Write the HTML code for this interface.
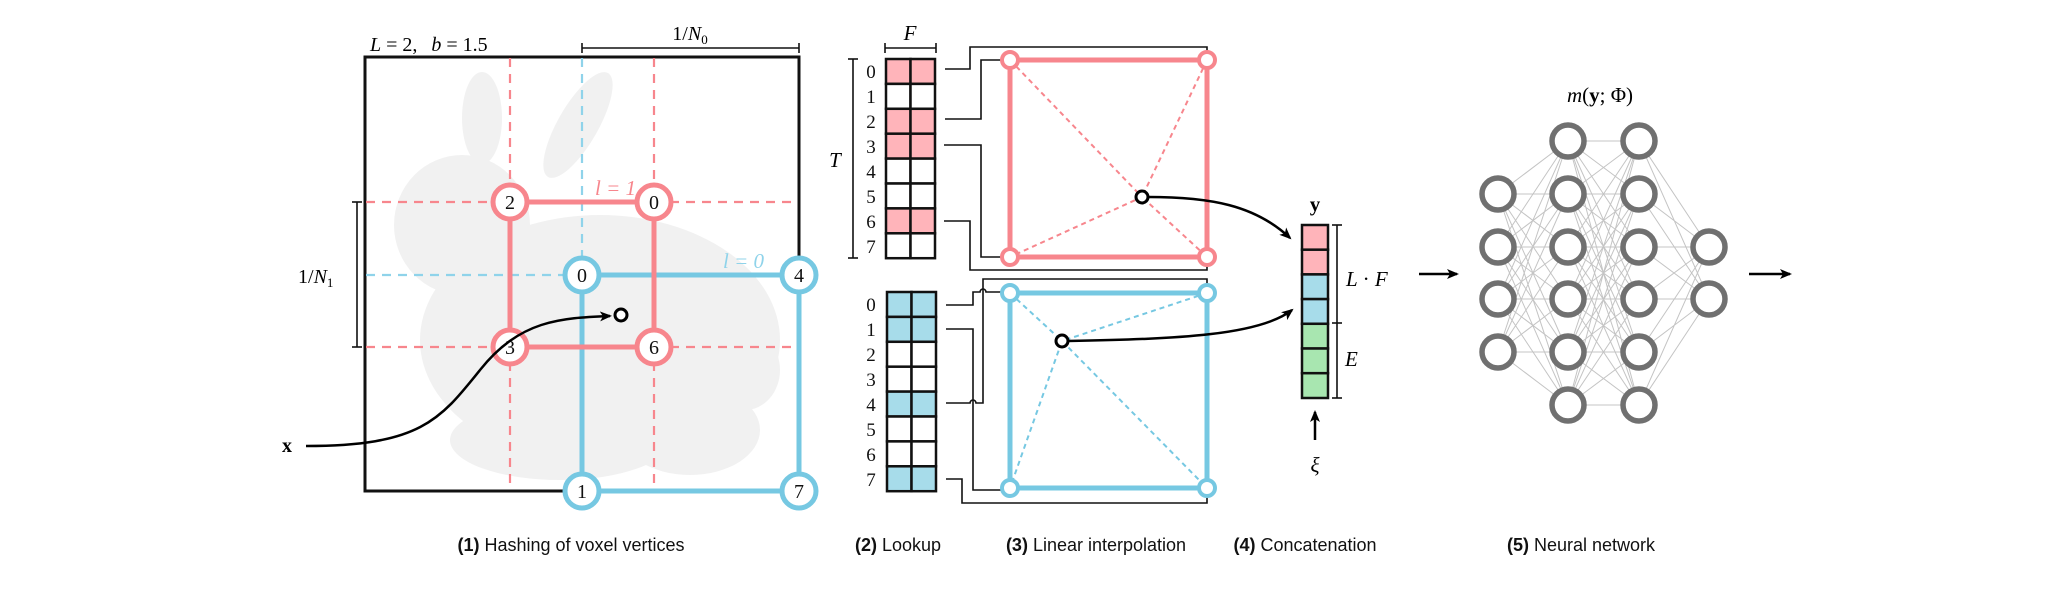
<!DOCTYPE html>
<html><head><meta charset="utf-8"><style>
html,body{margin:0;padding:0;background:#fff;}
svg{display:block;}
.m{font-family:"Liberation Serif",serif;}
.c{font-family:"Liberation Sans",sans-serif;font-size:18px;fill:#111;}
</style></head><body>
<svg width="2068" height="606" viewBox="0 0 2068 606" xmlns="http://www.w3.org/2000/svg">
<defs>
<marker id="ah" markerWidth="12" markerHeight="10" refX="10" refY="5" orient="auto" markerUnits="userSpaceOnUse">
<path d="M0,0 L12,5 L0,10 L3,5 z" fill="#000"/></marker>
</defs>
<!-- bunny -->
<g fill="#f1f1f1">
<ellipse cx="482" cy="118" rx="20" ry="46"/>
<ellipse cx="578" cy="125" rx="20" ry="60" transform="rotate(30 578 125)"/>
<ellipse cx="462" cy="225" rx="68" ry="70"/>
<ellipse cx="600" cy="340" rx="180" ry="125"/>
<ellipse cx="745" cy="370" rx="35" ry="40"/>
<ellipse cx="560" cy="440" rx="110" ry="40"/>
<ellipse cx="690" cy="430" rx="70" ry="45"/>
</g>
<!-- frame -->
<rect x="365" y="57" width="434" height="434" fill="none" stroke="#111" stroke-width="3"/>
<!-- dashed grid -->
<g stroke="#f7868d" stroke-width="2.2" stroke-dasharray="9,7" fill="none">
<line x1="510" y1="58" x2="510" y2="490"/><line x1="654" y1="58" x2="654" y2="490"/>
<line x1="366" y1="202" x2="798" y2="202"/><line x1="366" y1="347" x2="798" y2="347"/>
</g>
<g stroke="#8fd3ea" stroke-width="2.2" stroke-dasharray="9,7" fill="none">
<line x1="582" y1="58" x2="582" y2="275"/><line x1="366" y1="275" x2="582" y2="275"/>
</g>
<!-- blue square -->
<rect x="582" y="275" width="217" height="216" fill="none" stroke="#76c8e2" stroke-width="5"/>
<!-- pink square -->
<rect x="510" y="202" width="144" height="145" fill="none" stroke="#f7868d" stroke-width="5"/>
<g stroke-width="5" fill="#fff">
<circle cx="510" cy="202" r="17" stroke="#f7868d"/><circle cx="654" cy="202" r="17" stroke="#f7868d"/>
<circle cx="510" cy="347" r="17" stroke="#f7868d"/><circle cx="654" cy="347" r="17" stroke="#f7868d"/>
<circle cx="582" cy="275" r="17" stroke="#76c8e2"/><circle cx="799" cy="275" r="17" stroke="#76c8e2"/>
<circle cx="582" cy="491" r="17" stroke="#76c8e2"/><circle cx="799" cy="491" r="17" stroke="#76c8e2"/>
</g>
<g class="m" font-size="20" text-anchor="middle" fill="#111">
<text x="510" y="209">2</text><text x="654" y="209">0</text><text x="510" y="354">3</text><text x="654" y="354">6</text>
<text x="582" y="282">0</text><text x="799" y="282">4</text><text x="582" y="498">1</text><text x="799" y="498">7</text>
</g>
<text class="m" x="595" y="195" font-size="21" fill="#f7868d" font-style="italic">l = 1</text>
<text class="m" x="723" y="268" font-size="21" fill="#8fd3ea" font-style="italic">l = 0</text>
<!-- point & x arrow -->
<path d="M306,446 C420,446 440,420 480,370 C520,320 560,318 610,316" fill="none" stroke="#000" stroke-width="2.5" marker-end="url(#ah)"/>
<circle cx="621" cy="315" r="6" fill="#fff" stroke="#000" stroke-width="3"/>
<text class="m" x="282" y="452" font-size="20" font-weight="bold">x</text>
<!-- top labels -->
<text class="m" x="370" y="51" font-size="20" font-style="italic">L<tspan font-style="normal"> = 2,</tspan><tspan dx="14">b</tspan><tspan font-style="normal"> = 1.5</tspan></text>
<g stroke="#111" stroke-width="1.6"><line x1="582" y1="48" x2="799" y2="48"/><line x1="582" y1="43" x2="582" y2="53"/><line x1="799" y1="43" x2="799" y2="53"/>
<line x1="357" y1="202" x2="357" y2="347"/><line x1="352" y1="202" x2="362" y2="202"/><line x1="352" y1="347" x2="362" y2="347"/></g>
<text class="m" x="690" y="40" font-size="20" text-anchor="middle">1/<tspan font-style="italic">N</tspan><tspan font-size="13" dy="4">0</tspan></text>
<text class="m" x="298" y="283" font-size="20">1/<tspan font-style="italic">N</tspan><tspan font-size="13" dy="4">1</tspan></text>
<!-- tables -->
<g stroke="#111" stroke-width="2.5">
<rect x="886" y="59" width="24.5" height="24.9" fill="#ffb4ba"/><rect x="910.5" y="59" width="24.5" height="24.9" fill="#ffb4ba"/>
<rect x="886" y="83.9" width="24.5" height="24.9" fill="#fff"/><rect x="910.5" y="83.9" width="24.5" height="24.9" fill="#fff"/>
<rect x="886" y="108.8" width="24.5" height="24.9" fill="#ffb4ba"/><rect x="910.5" y="108.8" width="24.5" height="24.9" fill="#ffb4ba"/>
<rect x="886" y="133.7" width="24.5" height="24.9" fill="#ffb4ba"/><rect x="910.5" y="133.7" width="24.5" height="24.9" fill="#ffb4ba"/>
<rect x="886" y="158.6" width="24.5" height="24.9" fill="#fff"/><rect x="910.5" y="158.6" width="24.5" height="24.9" fill="#fff"/>
<rect x="886" y="183.5" width="24.5" height="24.9" fill="#fff"/><rect x="910.5" y="183.5" width="24.5" height="24.9" fill="#fff"/>
<rect x="886" y="208.4" width="24.5" height="24.9" fill="#ffb4ba"/><rect x="910.5" y="208.4" width="24.5" height="24.9" fill="#ffb4ba"/>
<rect x="886" y="233.3" width="24.5" height="24.9" fill="#fff"/><rect x="910.5" y="233.3" width="24.5" height="24.9" fill="#fff"/>

<rect x="887" y="292" width="24.5" height="24.9" fill="#a7dcea"/><rect x="911.5" y="292" width="24.5" height="24.9" fill="#a7dcea"/>
<rect x="887" y="316.9" width="24.5" height="24.9" fill="#a7dcea"/><rect x="911.5" y="316.9" width="24.5" height="24.9" fill="#a7dcea"/>
<rect x="887" y="341.8" width="24.5" height="24.9" fill="#fff"/><rect x="911.5" y="341.8" width="24.5" height="24.9" fill="#fff"/>
<rect x="887" y="366.7" width="24.5" height="24.9" fill="#fff"/><rect x="911.5" y="366.7" width="24.5" height="24.9" fill="#fff"/>
<rect x="887" y="391.6" width="24.5" height="24.9" fill="#a7dcea"/><rect x="911.5" y="391.6" width="24.5" height="24.9" fill="#a7dcea"/>
<rect x="887" y="416.5" width="24.5" height="24.9" fill="#fff"/><rect x="911.5" y="416.5" width="24.5" height="24.9" fill="#fff"/>
<rect x="887" y="441.4" width="24.5" height="24.9" fill="#fff"/><rect x="911.5" y="441.4" width="24.5" height="24.9" fill="#fff"/>
<rect x="887" y="466.3" width="24.5" height="24.9" fill="#a7dcea"/><rect x="911.5" y="466.3" width="24.5" height="24.9" fill="#a7dcea"/>
</g>
<g class="m" font-size="19" text-anchor="middle" fill="#111">
<text x="871" y="78">0</text><text x="871" y="103">1</text><text x="871" y="128">2</text><text x="871" y="153">3</text>
<text x="871" y="178">4</text><text x="871" y="203">5</text><text x="871" y="228">6</text><text x="871" y="253">7</text>
<text x="871" y="311">0</text><text x="871" y="336">1</text><text x="871" y="361">2</text><text x="871" y="386">3</text>
<text x="871" y="411">4</text><text x="871" y="436">5</text><text x="871" y="461">6</text><text x="871" y="486">7</text>
</g>
<g stroke="#111" stroke-width="1.6" fill="none">
<line x1="885" y1="48" x2="936" y2="48"/><line x1="885" y1="43" x2="885" y2="53"/><line x1="936" y1="43" x2="936" y2="53"/>
<line x1="853" y1="59" x2="853" y2="258"/><line x1="848" y1="59" x2="858" y2="59"/><line x1="848" y1="258" x2="858" y2="258"/>
<!-- top connectors -->
<polyline points="945,69 970,69 970,47 1207,47 1207,52"/>
<polyline points="945,119 981,119 981,60 1002,60"/>
<polyline points="944,145 981,145 981,257 1002,257"/>
<polyline points="944,221 970,221 970,270 1207,270 1207,265"/>
<!-- bottom connectors -->
<path d="M946,305 L973,305 L973,292 L980,292 A3,3 0 0 1 986,292 L1002,292"/>
<polyline points="946,329 973,329 973,490 1002,490"/>
<path d="M946,403 L970,403 A3,3 0 0 1 976,403 L983,403 L983,279 L1207,279 L1207,285"/>
<polyline points="946,479 962,479 962,503 1207,503 1207,497"/>
</g>
<text class="m" x="910" y="40" font-size="21" font-style="italic" text-anchor="middle">F</text>
<text class="m" x="835" y="167" font-size="21" font-style="italic" text-anchor="middle">T</text>
<!-- interpolation squares -->
<g fill="none" stroke-width="2" stroke-dasharray="5,4">
<polyline points="1010,60 1142,197 1010,257" stroke="#f7868d"/><polyline points="1207,60 1142,197 1207,257" stroke="#f7868d"/>
<polyline points="1010,293 1062,341 1010,488" stroke="#76c8e2"/><polyline points="1207,293 1062,341 1207,488" stroke="#76c8e2"/>
</g>
<rect x="1010" y="60" width="197" height="197" fill="none" stroke="#f7868d" stroke-width="5"/>
<rect x="1010" y="293" width="197" height="195" fill="none" stroke="#76c8e2" stroke-width="5"/>
<g fill="#fff" stroke-width="4">
<circle cx="1010" cy="60" r="8" stroke="#f7868d"/><circle cx="1207" cy="60" r="8" stroke="#f7868d"/>
<circle cx="1010" cy="257" r="8" stroke="#f7868d"/><circle cx="1207" cy="257" r="8" stroke="#f7868d"/>
<circle cx="1010" cy="293" r="8" stroke="#76c8e2"/><circle cx="1207" cy="293" r="8" stroke="#76c8e2"/>
<circle cx="1010" cy="488" r="8" stroke="#76c8e2"/><circle cx="1207" cy="488" r="8" stroke="#76c8e2"/>
</g>
<path d="M1148,197 C1210,197 1255,205 1290,238" fill="none" stroke="#000" stroke-width="2.5" marker-end="url(#ah)"/>
<path d="M1068,341 C1180,339 1260,335 1292,310" fill="none" stroke="#000" stroke-width="2.5" marker-end="url(#ah)"/>
<circle cx="1142" cy="197" r="6" fill="#fff" stroke="#000" stroke-width="3"/>
<circle cx="1062" cy="341" r="6" fill="#fff" stroke="#000" stroke-width="3"/>
<!-- y vector -->
<g stroke="#111" stroke-width="2.5">
<rect x="1302" y="225" width="26" height="24.7" fill="#ffb4ba"/>
<rect x="1302" y="249.7" width="26" height="24.7" fill="#ffb4ba"/>
<rect x="1302" y="274.4" width="26" height="24.7" fill="#a7dcea"/>
<rect x="1302" y="299.1" width="26" height="24.7" fill="#a7dcea"/>
<rect x="1302" y="323.8" width="26" height="24.7" fill="#a8e6b0"/>
<rect x="1302" y="348.5" width="26" height="24.7" fill="#a8e6b0"/>
<rect x="1302" y="373.2" width="26" height="24.8" fill="#a8e6b0"/>
</g>
<g stroke="#111" stroke-width="1.6">
<line x1="1337" y1="225" x2="1337" y2="398"/><line x1="1332" y1="225" x2="1342" y2="225"/>
<line x1="1332" y1="323" x2="1342" y2="323"/><line x1="1332" y1="398" x2="1342" y2="398"/></g>
<text class="m" x="1315" y="211" font-size="21" font-weight="bold" text-anchor="middle">y</text>
<text class="m" x="1346" y="286" font-size="21" font-style="italic">L <tspan font-style="normal">·</tspan> F</text>
<text class="m" x="1345" y="366" font-size="21" font-style="italic">E</text>
<line x1="1315" y1="440" x2="1315" y2="412" stroke="#000" stroke-width="2.5" marker-end="url(#ah)"/>
<text class="m" x="1315" y="472" font-size="21" font-style="italic" text-anchor="middle">ξ</text>
<line x1="1419" y1="274" x2="1457" y2="274" stroke="#000" stroke-width="2.5" marker-end="url(#ah)"/>
<line x1="1749" y1="274" x2="1790" y2="274" stroke="#000" stroke-width="2.5" marker-end="url(#ah)"/>
<!-- NN -->
<g stroke="#c4c4c4" stroke-width="1">
<path d="M1498,194 L1568,141 M1498,194 L1568,194 M1498,194 L1568,247 M1498,194 L1568,299 M1498,194 L1568,352 M1498,194 L1568,405
M1498,247 L1568,141 M1498,247 L1568,194 M1498,247 L1568,247 M1498,247 L1568,299 M1498,247 L1568,352 M1498,247 L1568,405
M1498,299 L1568,141 M1498,299 L1568,194 M1498,299 L1568,247 M1498,299 L1568,299 M1498,299 L1568,352 M1498,299 L1568,405
M1498,352 L1568,141 M1498,352 L1568,194 M1498,352 L1568,247 M1498,352 L1568,299 M1498,352 L1568,352 M1498,352 L1568,405"/>
<path d="M1568,141 L1639,141 M1568,141 L1639,194 M1568,141 L1639,247 M1568,141 L1639,299 M1568,141 L1639,352 M1568,141 L1639,405
M1568,194 L1639,141 M1568,194 L1639,194 M1568,194 L1639,247 M1568,194 L1639,299 M1568,194 L1639,352 M1568,194 L1639,405
M1568,247 L1639,141 M1568,247 L1639,194 M1568,247 L1639,247 M1568,247 L1639,299 M1568,247 L1639,352 M1568,247 L1639,405
M1568,299 L1639,141 M1568,299 L1639,194 M1568,299 L1639,247 M1568,299 L1639,299 M1568,299 L1639,352 M1568,299 L1639,405
M1568,352 L1639,141 M1568,352 L1639,194 M1568,352 L1639,247 M1568,352 L1639,299 M1568,352 L1639,352 M1568,352 L1639,405
M1568,405 L1639,141 M1568,405 L1639,194 M1568,405 L1639,247 M1568,405 L1639,299 M1568,405 L1639,352 M1568,405 L1639,405"/>
<path d="M1639,141 L1709,247 M1639,141 L1709,299 M1639,194 L1709,247 M1639,194 L1709,299 M1639,247 L1709,247 M1639,247 L1709,299
M1639,299 L1709,247 M1639,299 L1709,299 M1639,352 L1709,247 M1639,352 L1709,299 M1639,405 L1709,247 M1639,405 L1709,299"/>
</g>
<g fill="#fff" stroke="#707070" stroke-width="5.5">
<circle cx="1498" cy="194" r="16"/><circle cx="1498" cy="247" r="16"/><circle cx="1498" cy="299" r="16"/><circle cx="1498" cy="352" r="16"/>
<circle cx="1568" cy="141" r="16"/><circle cx="1568" cy="194" r="16"/><circle cx="1568" cy="247" r="16"/><circle cx="1568" cy="299" r="16"/><circle cx="1568" cy="352" r="16"/><circle cx="1568" cy="405" r="16"/>
<circle cx="1639" cy="141" r="16"/><circle cx="1639" cy="194" r="16"/><circle cx="1639" cy="247" r="16"/><circle cx="1639" cy="299" r="16"/><circle cx="1639" cy="352" r="16"/><circle cx="1639" cy="405" r="16"/>
<circle cx="1709" cy="247" r="16"/><circle cx="1709" cy="299" r="16"/>
</g>
<text class="m" x="1600" y="102" font-size="21" text-anchor="middle"><tspan font-style="italic">m</tspan>(<tspan font-weight="bold">y</tspan>; Φ)</text>
<!-- captions -->
<text class="c" x="571" y="551" text-anchor="middle"><tspan font-weight="bold">(1)</tspan> Hashing of voxel vertices</text>
<text class="c" x="898" y="551" text-anchor="middle"><tspan font-weight="bold">(2)</tspan> Lookup</text>
<text class="c" x="1096" y="551" text-anchor="middle"><tspan font-weight="bold">(3)</tspan> Linear interpolation</text>
<text class="c" x="1305" y="551" text-anchor="middle"><tspan font-weight="bold">(4)</tspan> Concatenation</text>
<text class="c" x="1581" y="551" text-anchor="middle"><tspan font-weight="bold">(5)</tspan> Neural network</text>
</svg>
</body></html>
